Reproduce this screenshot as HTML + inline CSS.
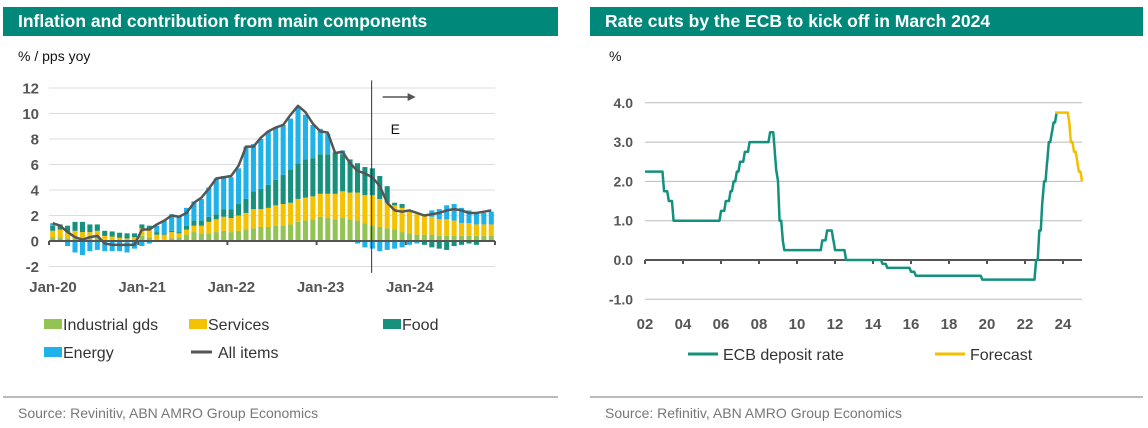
<!DOCTYPE html>
<html><head><meta charset="utf-8">
<style>
body{margin:0;width:1148px;height:428px;background:#fff;font-family:"Liberation Sans",Arial,sans-serif;position:relative;overflow:hidden}
.hdr{position:absolute;top:7px;height:29px;background:#00897b;color:#fff;font-weight:bold;font-size:17.5px;line-height:29px;padding-left:15px;box-sizing:border-box}
.src{position:absolute;top:405px;font-size:14px;color:#777}
.sep{position:absolute;top:396px;height:2px;background:#bbb}
svg{position:absolute;left:0;top:0}
</style></head><body>
<div class="hdr" style="left:3px;width:555px">Inflation and contribution from main components</div>
<div class="hdr" style="left:590px;width:553px">Rate cuts by the ECB to kick off in March 2024</div>
<div class="sep" style="left:3px;width:555px"></div>
<div class="sep" style="left:590px;width:553px"></div>
<div class="src" style="left:18px">Source: Revinitiv, ABN AMRO Group Economics</div>
<div class="src" style="left:605px">Source: Refinitiv, ABN AMRO Group Economics</div>
<svg id="c" width="1148" height="428" xmlns="http://www.w3.org/2000/svg"></svg>
<script>
const industrial=[0.3,0.3,0.2,0.2,0.2,0.2,0.4,0.1,0.05,0.05,-0.1,0.0, 0.4,0.3,0.1,0.1,0.2,0.3,0.5,0.7,0.6,0.6,0.7,0.8, 0.7,0.8,0.9,1.0,1.1,1.1,1.2,1.2,1.3,1.5,1.6,1.7, 1.9,1.8,1.7,1.8,1.7,1.6,1.4,1.2,1.1,1.0,0.9,0.7, 0.6,0.5,0.5,0.5,0.4,0.4,0.4,0.4,0.4,0.4,0.4,0.4];
const services=[0.5,0.6,0.5,0.6,0.5,0.5,0.4,0.3,0.3,0.2,0.2,0.3, 0.6,0.6,0.4,0.4,0.5,0.3,0.4,0.5,0.6,0.9,1.0,1.1, 1.1,1.2,1.3,1.5,1.4,1.5,1.6,1.7,1.7,1.8,1.8,1.8, 1.8,1.9,2.0,2.1,2.1,2.2,2.2,2.4,2.2,2.0,1.9,1.9, 1.7,1.6,1.5,1.4,1.3,1.3,1.2,1.0,1.0,0.9,0.9,0.9];
const food=[0.4,0.4,0.5,0.7,0.8,0.6,0.5,0.4,0.4,0.4,0.4,0.3, 0.3,0.3,0.2,0.1,0.1,0.1,0.3,0.4,0.4,0.4,0.4,0.6, 0.7,0.9,1.1,1.4,1.6,1.8,2.0,2.3,2.6,2.8,3.0,3.0, 3.1,3.1,3.2,2.9,2.6,2.3,2.2,2.1,1.8,1.3,0.2,0.3, 0.0,-0.1,-0.3,-0.5,-0.6,-0.7,-0.4,-0.3,-0.2,-0.3,0.0,0.0];
const energy=[0.2,0.0,-0.4,-0.9,-1.1,-0.8,-0.7,-0.8,-0.8,-0.8,-0.8,-0.6, -0.4,-0.2,0.5,1.0,1.3,1.2,1.4,1.5,1.7,2.3,2.8,2.6, 2.5,2.8,4.1,3.7,3.9,4.2,4.1,3.9,4.0,4.4,3.5,2.6, 2.0,1.6,0.1,0.3,0.0,-0.2,-0.5,-0.6,-0.8,-0.7,-0.6,-0.5, -0.3,-0.1,0.1,0.5,0.8,1.1,1.3,1.2,1.0,0.9,0.9,1.0];
const allItems=[1.4,1.2,0.7,0.3,0.1,0.3,0.4,-0.2,-0.3,-0.3,-0.3,-0.3, 0.9,0.9,1.3,1.6,2.0,1.9,2.2,3.0,3.4,4.1,4.9,5.0, 5.1,5.9,7.4,7.4,8.1,8.6,8.9,9.1,9.9,10.6,10.1,9.2, 8.6,8.5,6.9,7.0,6.1,5.5,5.3,5.0,4.3,3.0,2.4,2.3, 2.4,2.2,2.0,2.1,2.2,2.4,2.5,2.4,2.2,2.2,2.3,2.4];
const leftYTicks=[12,10,8,6,4,2,0,-2];
const leftXLabels=["Jan-20","Jan-21","Jan-22","Jan-23","Jan-24"];
const forecastStartIndex=43;

const rateDates=[2002.0,2002.92,2003.17,2003.42,2005.92,2006.17,2006.42,2006.58,2006.75,2006.92,2007.17,2007.42,2008.5,2008.75,2008.83,2008.92,2009.0,2009.17,2009.25,2011.25,2011.5,2011.83,2011.92,2012.5,2014.42,2014.67,2015.92,2016.17,2019.67,2022.5,2022.67,2022.83,2022.92,2023.08,2023.17,2023.33,2023.42,2023.58];
const rateValues=[2.25,1.75,1.5,1.0,1.25,1.5,1.75,2.0,2.25,2.5,2.75,3.0,3.25,2.75,2.25,2.0,1.0,0.5,0.25,0.5,0.75,0.5,0.25,0.0,-0.1,-0.2,-0.3,-0.4,-0.5,0.0,0.75,1.5,2.0,2.5,3.0,3.25,3.5,3.75];
const fcDates=[2023.58,2024.17,2024.25,2024.33,2024.5,2024.67,2024.75,2024.83,2024.92];
const fcValues=[3.75,3.75,3.5,3.0,2.75,2.5,2.25,2.25,2.0];
const rightYTicks=[4,3,2,1,0,-1];
const rightXLabels=["02","04","06","08","10","12","14","16","18","20","22","24"];

const svg=document.getElementById('c');
const NS='http://www.w3.org/2000/svg';
function mk(tag,attrs,parent){const e=document.createElementNS(NS,tag);for(const k in attrs)e.setAttribute(k,attrs[k]);(parent||svg).appendChild(e);return e;}
function txt(x,y,s,attrs){const t=mk('text',Object.assign({x:x,y:y,'font-family':'Liberation Sans, Arial, sans-serif'},attrs));t.textContent=s;return t;}

// ---- left chart ----
const L0=49,L1=495,n=allItems.length;
const lx=i=>L0+(L1-L0)/n*(i+0.5);
const ly=v=>241-v*12.75;
const gL=mk('g',{});


txt(18,61,'% / pps yoy',{'font-size':14,fill:'#111'});
leftYTicks.forEach(v=>{
  if(v!==0){const gl=mk('line',{x1:L0,x2:L1,y1:ly(v),y2:ly(v),stroke:'#ddd','stroke-width':1},gL);
  }
  const t=txt(39,ly(v)+5.5,String(v),{'font-size':15,'font-weight':'bold',fill:'#555','text-anchor':'end'});
  
});
const cols={industrial:'#92c353',services:'#f5c200',food:'#17907e',energy:'#1fb2ea'};
const series=[['industrial',industrial],['services',services],['food',food],['energy',energy]];
const bw=(L1-L0)/n*0.68;
for(let i=0;i<n;i++){
  let pos=0,neg=0;
  series.forEach(([k,arr])=>{
    const v=arr[i];let y0,y1;
    if(v>=0){y0=pos;y1=pos+v;pos=y1;}else{y0=neg;y1=neg+v;neg=y1;}
    const r=mk('rect',{x:lx(i)-bw/2,y:Math.min(ly(y0),ly(y1)),width:bw,height:Math.abs(ly(y1)-ly(y0)),fill:cols[k]},gL);
    
    
  });
}
const ax=mk('line',{x1:L0,x2:L1,y1:ly(0),y2:ly(0),stroke:'#555','stroke-width':2},gL);

leftXLabels.forEach((s,j)=>{
  const xt=L0+(L1-L0)/n*12*j;
  mk('line',{x1:xt,x2:xt,y1:ly(0),y2:ly(0)+4,stroke:'#555','stroke-width':2},gL);
  const t=txt(xt+4,292,s,{'font-size':15,'font-weight':'bold',fill:'#555','text-anchor':'middle'});
  
});
mk('line',{x1:L1,x2:L1,y1:ly(0),y2:ly(0)+4,stroke:'#555','stroke-width':2},gL);
const ll=mk('polyline',{points:allItems.map((v,i)=>lx(i)+','+ly(v)).join(' '),fill:'none',stroke:'#555','stroke-width':2.5,'stroke-linejoin':'round'},gL);

const vx=L0+(L1-L0)/n*forecastStartIndex+3;
const vl=mk('line',{x1:vx,x2:vx,y1:ly(12.6),y2:ly(-2.5),stroke:'#333','stroke-width':1},gL);

const ar=mk('line',{x1:vx+11,x2:vx+40,y1:97,y2:97,stroke:'#555','stroke-width':1.5},gL);

mk('polygon',{points:`${vx+44},97 ${vx+36},93 ${vx+36},101`,fill:'#555'},gL);
const et=txt(vx+19,134,'E',{'font-size':14,fill:'#111'});

// legend
function legBox(x,y,c,label,name){const g=mk('g',{});
  mk('rect',{x:x,y:y-11,width:18,height:10,fill:c},g);const t=txt(x+19,y,label,{'font-size':16,fill:'#333'});g.appendChild(t);}
legBox(44,330,cols.industrial,'Industrial gds','legend-industrial');
legBox(189,330,cols.services,'Services','legend-services');
legBox(383,330,cols.food,'Food','legend-food');
legBox(44,358,cols.energy,'Energy','legend-energy');
{const g=mk('g',{});
mk('line',{x1:191,x2:212,y1:352,y2:352,stroke:'#555','stroke-width':3},g);const t=txt(218,358,'All items',{'font-size':16,fill:'#333'});g.appendChild(t);}

// ---- right chart ----
const R0=645,R1=1082;
const rx=t=>R0+(t-2002)*19;
const ry=v=>260-v*39.3;
const gR=mk('g',{});


txt(609,61,'%',{'font-size':14,fill:'#111'});
rightYTicks.forEach(v=>{
  if(v!==0){const gl=mk('line',{x1:R0,x2:R1,y1:ry(v),y2:ry(v),stroke:'#bbb','stroke-width':1},gR);
  }
  const t=txt(633,ry(v)+5,v.toFixed(1),{'font-size':14,'font-weight':'bold',fill:'#555','text-anchor':'end'});
  
});
const rax=mk('line',{x1:R0,x2:R1,y1:ry(0),y2:ry(0),stroke:'#555','stroke-width':2},gR);

rightXLabels.forEach((s,j)=>{
  const xt=rx(2002+2*j);
  mk('line',{x1:xt,x2:xt,y1:ry(0),y2:ry(0)+4,stroke:'#555','stroke-width':2},gR);
  const t=txt(xt,329,s,{'font-size':15,'font-weight':'bold',fill:'#555','text-anchor':'middle'});
  
});
function stepPts(d,v){const p=[[d[0],v[0]]];for(let i=1;i<d.length;i++){p.push([d[i],v[i-1]]);p.push([d[i]+1/12,v[i]]);}return p.map(q=>rx(q[0])+','+ry(q[1])).join(' ');}
const rl=mk('polyline',{points:stepPts(rateDates,rateValues),fill:'none',stroke:'#13917f','stroke-width':2.5,'stroke-linejoin':'round'},gR);

const fl=mk('polyline',{points:stepPts(fcDates,fcValues),fill:'none',stroke:'#f2c000','stroke-width':2.5,'stroke-linejoin':'round'},gR);

{const g=mk('g',{});
mk('line',{x1:688,x2:718,y1:354,y2:354,stroke:'#13917f','stroke-width':3},g);g.appendChild(txt(723,360,'ECB deposit rate',{'font-size':16,fill:'#333'}));}
{const g=mk('g',{});
mk('line',{x1:935,x2:965,y1:354,y2:354,stroke:'#f2c000','stroke-width':3},g);g.appendChild(txt(970,360,'Forecast',{'font-size':16,fill:'#333'}));}
</script>
</body></html>
